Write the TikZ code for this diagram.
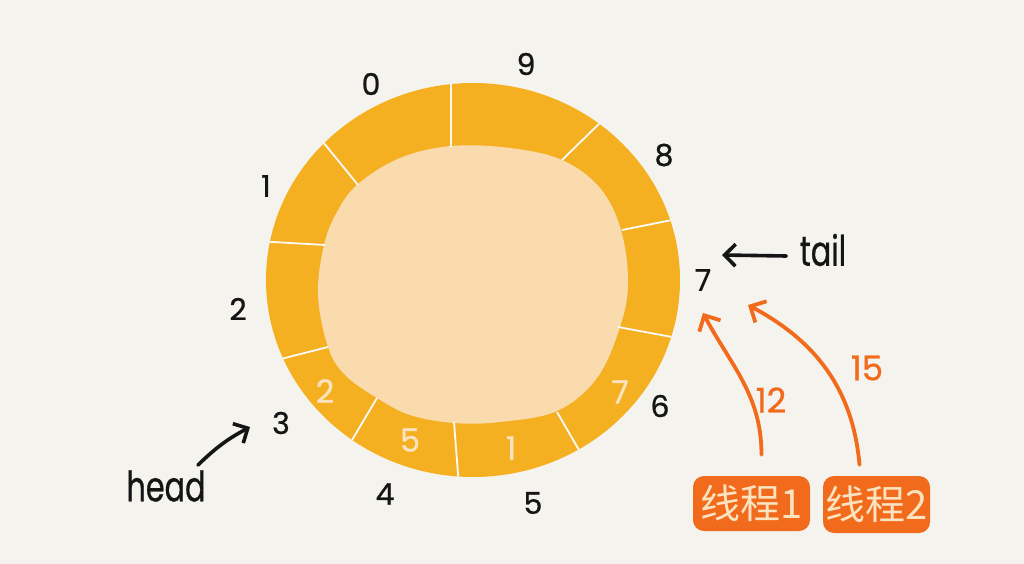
\documentclass[tikz,border=0pt]{standalone}
\usepackage{fontspec}
\setmainfont{Poppins}
\newfontfamily\handfont{Poppins}[FakeStretch=0.72,FakeBold=0.6]
\newfontfamily\digitfont{Poppins}[FakeBold=0.8]
\newfontfamily\cjk{Noto Sans CJK SC}
\usetikzlibrary{arrows.meta,calc}
\definecolor{bgc}{HTML}{F5F3EE}
\definecolor{ringc}{HTML}{F5B022}
\definecolor{innerc}{HTML}{F9DBAE}
\definecolor{orangec}{HTML}{F26A1B}
\definecolor{inkc}{HTML}{151515}
\definecolor{creamc}{HTML}{FAE3C0}
\tikzset{
  idx/.style={text=inkc,font=\digitfont\fontsize{30}{30}\selectfont},
  val/.style={text=creamc,font=\digitfont\fontsize{32}{32}\selectfont},
  word/.style={text=inkc,font=\handfont\fontsize{42}{42}\selectfont},
  onum/.style={text=orangec,font=\digitfont\fontsize{34}{34}\selectfont},
  divider/.style={draw=bgc!50!white,line width=1.8pt},
  blackarrow/.style={draw=inkc,line width=3.6pt,line cap=round,-{Straight Barb[length=11pt,width=22pt,line width=3.6pt]}},
  orangearrow/.style={draw=orangec,line width=3.8pt,line cap=round,-{Straight Barb[length=12pt,width=24pt,line width=3.8pt]}},
  threadbox/.style={fill=orangec,rounded corners=11pt,text=creamc,inner sep=0pt,font=\cjk\fontsize{40}{40}\selectfont},
}
\begin{document}
\begin{tikzpicture}[x=1pt,y=-1pt]
\fill[bgc] (0,0) rectangle (1024,564);
\useasboundingbox (0,0) rectangle (1024,564);
% outer ring
\fill[ringc] (473,280) ellipse [x radius=207pt, y radius=197pt];
% inner
\fill[innerc] plot[smooth cycle,tension=0.6] coordinates {(451,146) (510,148) (562,160) (600,188) (621,230) (628,283) (620,327) (597,378) (557,411) (500,422) (454,423) (410,415) (377,398) (345,375) (328,347) (318,295) (324,245) (337,212) (358,184) (400,158)};
% dividers
\begin{scope}
\clip (473,280) ellipse [x radius=207pt, y radius=197pt];
\foreach \ax/\ay/\bx/\by in {451/85/451/147, 603/120/562/160, 672/220/622/230, 672/337/618/327, 583/457/557/412, 458/474/454/422, 352/440/377/398, 277/360/328/347, 273/242/325/245, 323/142/358/185}
  \draw[divider] ($(\bx,\by)!1.3!(\ax,\ay)$) -- (\bx,\by);
\end{scope}
% index labels
\node[idx] (i0) at (371,84) {0};
\node[idx] (i9) at (526,64) {9};
\node[idx] (i8) at (664,155) {8};
\node[idx] (i7) at (703,280) {7};
\node[idx] (i6) at (660,406) {6};
\node[idx] (i5) at (533,503) {5};
\node[idx] (i4) at (385,494) {4};
\node[idx] (i3) at (281,423) {3};
\node[idx] (i2) at (238,309) {2};
\node[idx] (i1) at (266,186) {1};
% values
\node[val] (v3) at (325,391) {2};
\node[val] (v4) at (410,440) {5};
\node[val] (v5) at (511,448) {1};
\node[val] (v6) at (620,392) {7};
% head / tail
\node[word] (head) at (166,486) {head};
\node[word] (tail) at (823,250) {tail};
\coordinate (headtail) at (198,465);
\coordinate (headtip) at (250,427);
\coordinate (tailtip) at (722,255);
\draw[blackarrow] (headtail) to[bend left=8] (headtip);
\draw[blackarrow] ($(tail.west)+(-10,6)$) -- (tailtip);
% threads
\node[threadbox,minimum width=117pt,minimum height=55pt] (t1) at (751.5,503.5) {线程1};
\node[threadbox,minimum width=107pt,minimum height=57pt] (t2) at (876.5,504.5) {线程2};
\coordinate (t1tip) at (703,313);
\coordinate (t2tip) at (748,305);
\draw[orangearrow] ($(t1.north)+(10,-21)$) to[out=90,in=-62] (t1tip);
\draw[orangearrow] ($(t2.north)+(-17,-11)$) to[out=95,in=-28] (t2tip);
\node[onum] (n12) at (771,400) {12};
\node[onum] (n15) at (867,368) {15};
\end{tikzpicture}
\end{document}
